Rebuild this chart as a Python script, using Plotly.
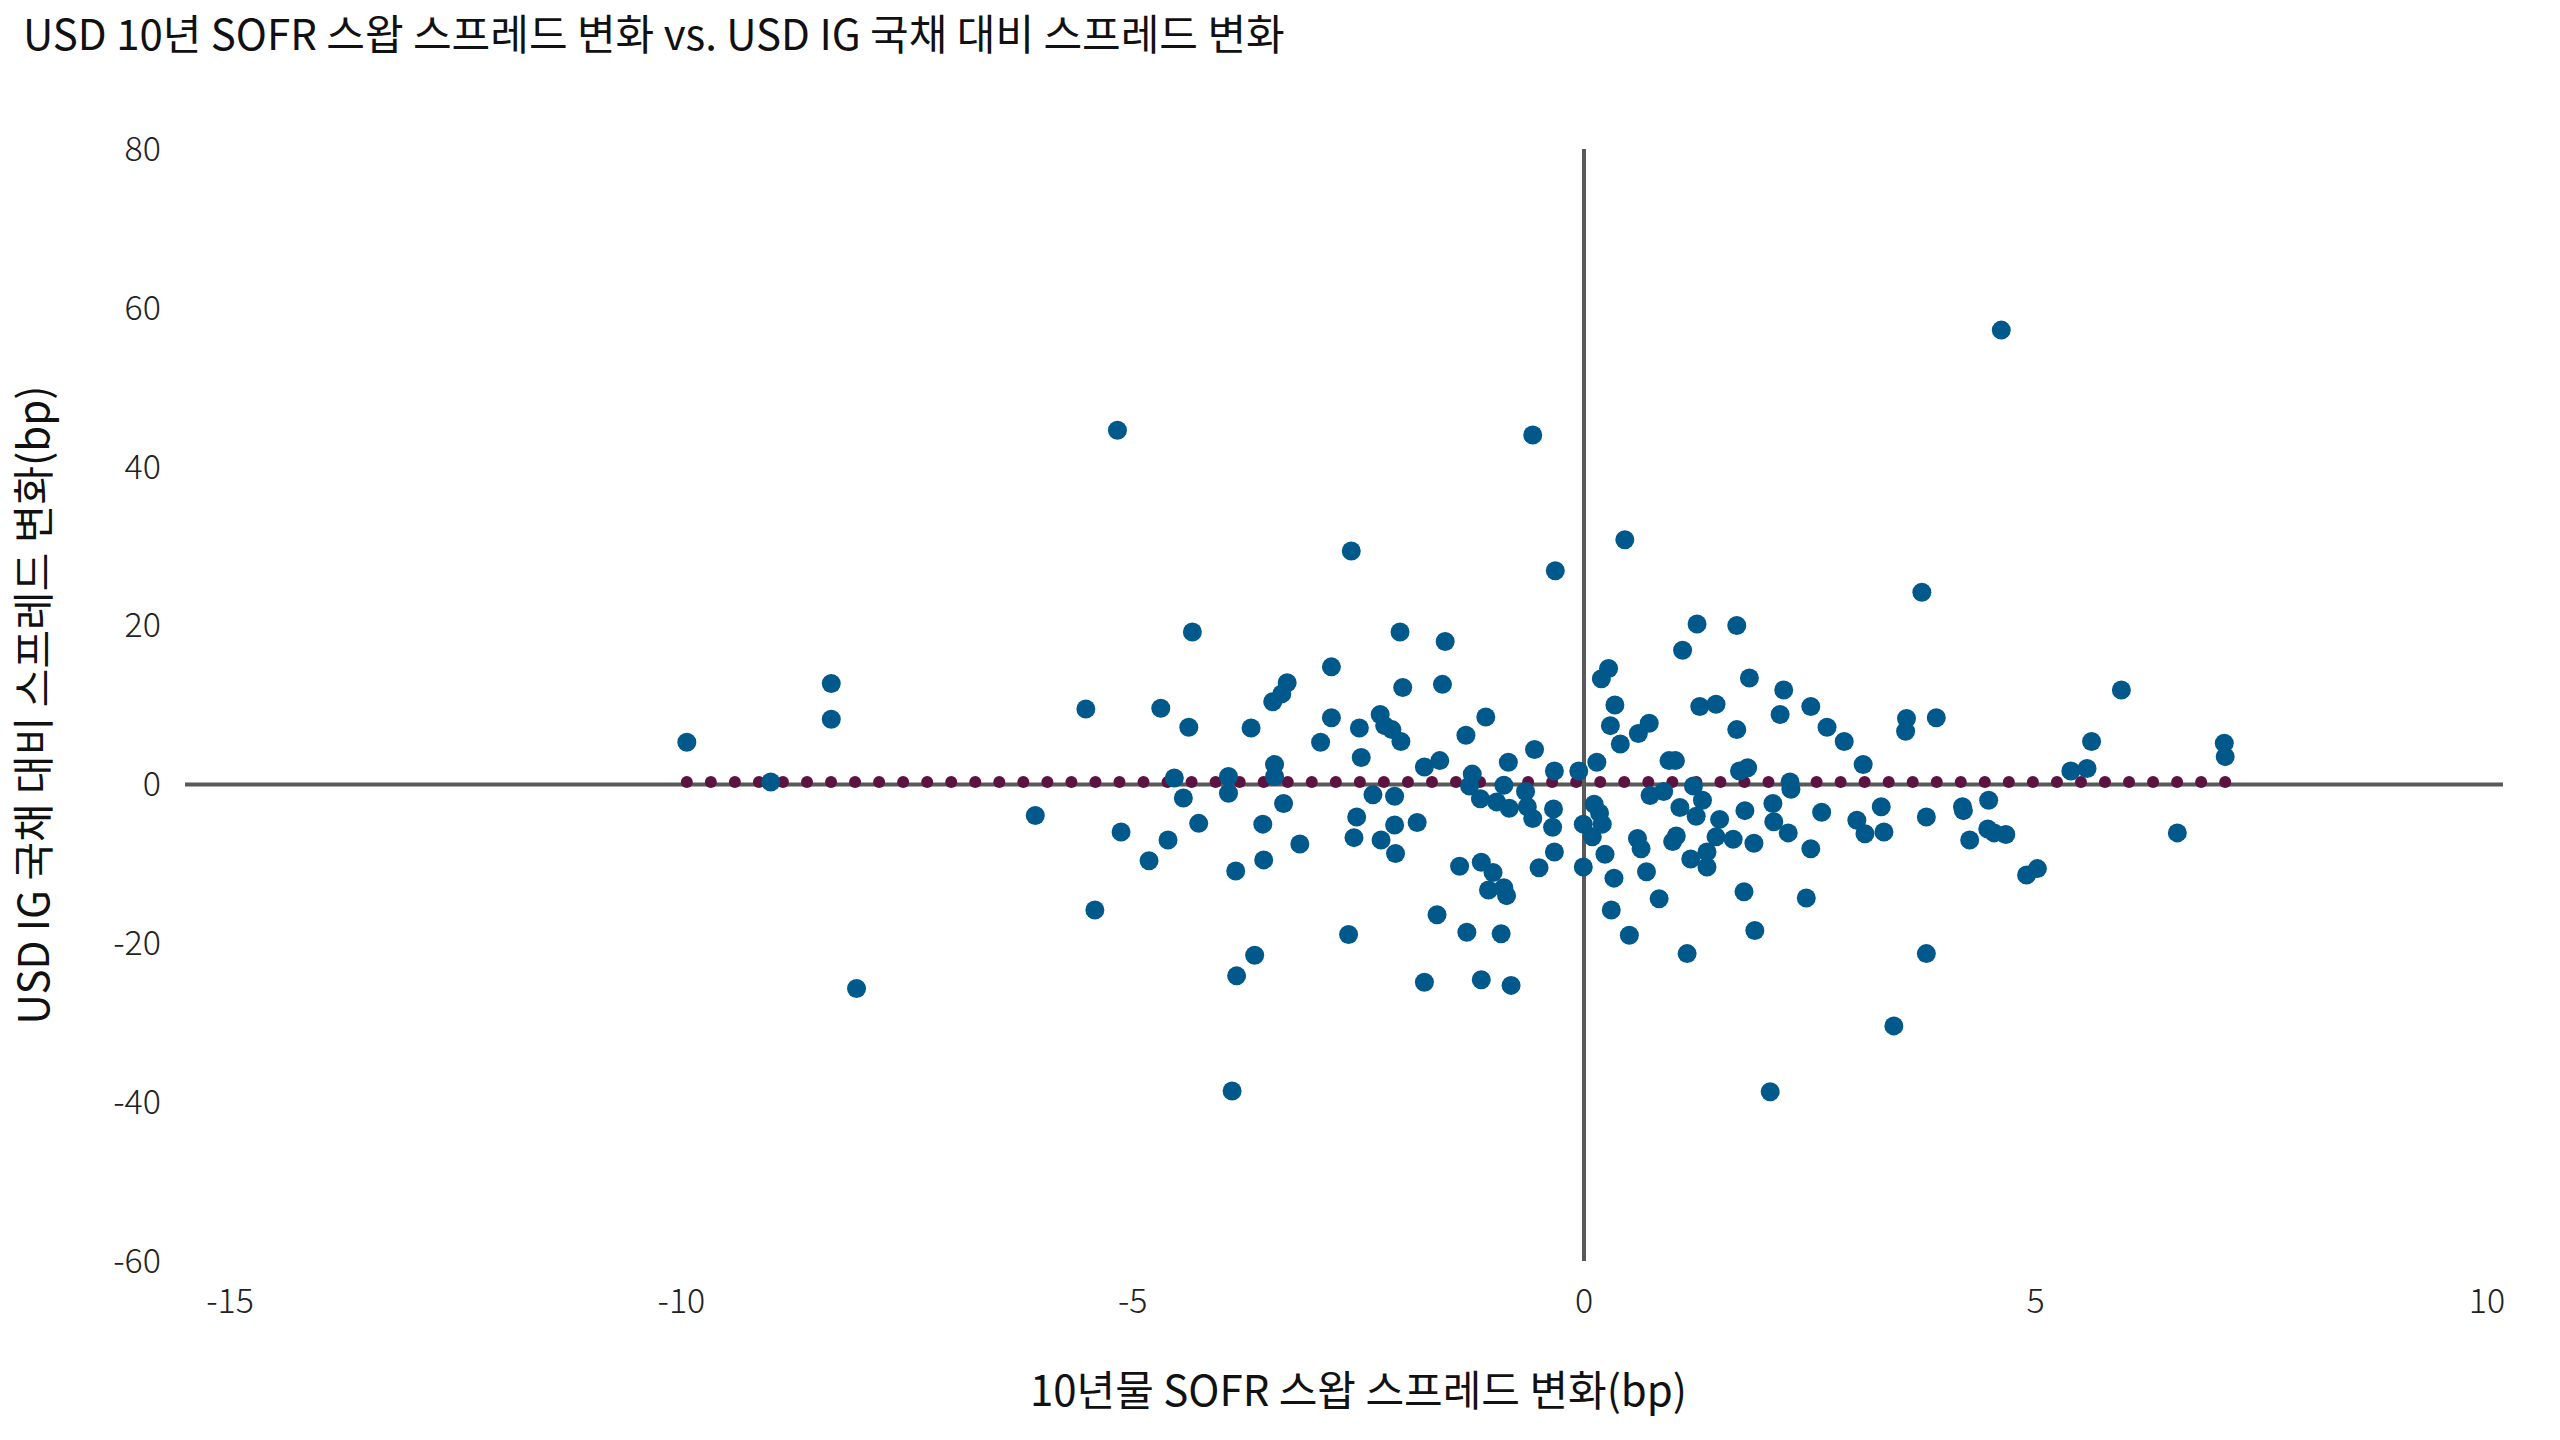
import numpy as np
import plotly.graph_objects as go

# 10년물 SOFR 스왑 스프레드 변화 (bp)
sofr_change = [
    -9.94, -9.01, -8.34, -8.34, -8.06, -6.08,
    -5.17, -2.58, -4.34, -2.04, -1.54, -2.80, -3.29, -3.35, -3.45, -2.01, -1.57,
    -5.52, -4.69, -4.38, -3.69, -2.80, -2.49, -2.26, -2.21, -2.13, -2.03, -2.92,
    -0.57, -0.32, 0.45, 1.25, 1.69, 1.09, 0.27, 0.19, 1.83, 2.21, 0.34, 1.28, 1.46,
    2.17, 2.51, -1.09, -1.31, 0.29, 0.72, 0.60, 1.69, 2.69, 2.88, -0.55, 0.40,
    3.74, 5.95, 3.57, 3.90, 3.56, 5.62, 7.09, 4.62,
    -4.54, -4.44, -4.27, -5.13, -4.61, -4.82, -5.42, -3.94, -3.94, -3.86, -3.43, -3.43,
    -3.33, -3.56, -3.55, -3.15, -3.65, -3.85, -3.90, -2.47, -1.77, -1.60, -2.34, -2.10,
    -2.52, -2.55, -2.25, -2.10, -2.09, -1.85, -2.61, -1.63, -1.77,
    -1.24, -1.27, -1.15, -0.97, -0.89, -0.84, -0.83, -0.65, -0.63, -0.57, -0.33, -0.34,
    -0.35, -0.33, -0.50, -0.06, 0.14, -0.01, 0.11, 0.17, 0.20, 0.09, -0.01, 0.23, 0.33,
    0.30, 0.50, -1.38, -1.14, -1.01, -1.06, -0.89, -0.86, -1.30, -0.92, -1.14, -0.81,
    0.94, 1.01, 0.73, 0.88, 1.21, 1.31, 1.06, 1.24, 1.50, 1.72, 1.81, 1.78, 2.09, 2.10,
    2.28, 2.29, 2.63, 0.59, 0.63, 1.02, 0.98, 1.46, 1.65, 1.36, 1.88, 2.26, 2.51, 1.18,
    1.36, 0.69, 0.83, 1.77, 2.46, 1.89, 1.14, 2.06,
    3.09, 5.39, 5.57, 7.10, 3.29, 3.02, 3.11, 3.32, 3.79, 4.19, 4.20, 4.48, 4.47, 4.54,
    4.67, 4.27, 4.90, 5.02, 6.57, 3.79, 3.43,
]

# USD IG 국채 대비 스프레드 변화 (bp)
ig_spread_change = [
    5.3, 0.3, 12.7, 8.2, -25.7, -3.9,
    44.6, 29.4, 19.2, 19.2, 18.0, 14.8, 12.8, 11.4, 10.4, 12.2, 12.6,
    9.5, 9.6, 7.2, 7.1, 8.4, 7.1, 8.8, 7.4, 6.9, 5.4, 5.3,
    44.0, 26.9, 30.8, 20.2, 20.0, 16.9, 14.6, 13.3, 13.4, 11.9, 10.0, 9.8, 10.1,
    8.8, 9.8, 8.5, 6.2, 7.4, 7.7, 6.4, 6.9, 7.2, 5.4, 4.4, 5.1,
    24.2, 11.9, 8.3, 8.4, 6.7, 5.4, 5.2, 57.2,
    0.8, -1.7, -4.9, -6.0, -7.0, -9.6, -15.8, 1.0, -1.1, -10.9, 2.5, 1.0,
    -2.4, -5.0, -9.5, -7.5, -21.5, -24.1, -38.6, 3.4, 2.2, 3.0, -1.3, -1.5,
    -4.1, -6.7, -7.0, -5.1, -8.7, -4.8, -18.9, -16.4, -24.9,
    1.3, -0.2, -1.8, -2.2, -0.1, 2.8, -3.0, -0.9, -2.8, -4.3, 1.7, -3.1,
    -5.4, -8.5, -10.5, 1.7, 2.8, -5.0, -2.5, -3.6, -5.0, -6.6, -10.4, -8.8, -11.8,
    -15.8, -19.0, -10.3, -9.8, -11.1, -13.3, -13.0, -14.0, -18.6, -18.8, -24.6, -25.3,
    3.0, 3.0, -1.4, -0.9, -0.2, -2.0, -2.9, -4.0, -4.4, 1.7, 2.1, -3.3, -2.4, -4.7,
    0.3, -0.6, -3.5, -6.8, -8.1, -6.5, -7.2, -6.6, -6.9, -8.5, -7.4, -6.1, -8.1, -9.4,
    -10.4, -11.0, -14.4, -13.5, -14.3, -18.4, -21.3, -38.7,
    2.5, 1.7, 2.0, 3.5, -2.8, -4.5, -6.2, -6.0, -4.1, -2.8, -3.3, -2.0, -5.6, -6.1,
    -6.3, -7.0, -11.4, -10.6, -6.1, -21.3, -30.4,
]

# 추세선 (양 끝 값, 그림에서 읽음)
trend_level = [0.3, 0.3]

x_ticks = [-15, -10, -5, 0, 5, 10]
y_ticks = [-60, -40, -20, 0, 20, 40, 60, 80]

title_text = "USD 10년 SOFR 스왑 스프레드 변화 vs. USD IG 국채 대비 스프레드 변화"
x_title = "10년물 SOFR 스왑 스프레드 변화(bp)"
y_title = "USD IG 국채 대비 스프레드 변화(bp)"

FONT = "Noto Sans CJK KR, Noto Sans, sans-serif"
BLUE = "#01588B"
MAROON = "#5C1342"
AXIS = "#58595B"

W, H = 2560, 1440
L, R, T, B = 230, 73, 149, 179
plot_w = W - L - R

# dotted trend line: dots along the line from min to max of the data
x_min, x_max = min(sofr_change), max(sofr_change)
n_dots = int(round((x_max - x_min) / 0.265)) + 1
trend_x = np.linspace(x_min, x_max, n_dots)
trend_y = np.interp(trend_x, [x_min, x_max], trend_level)

fig = go.Figure()
fig.add_trace(go.Scatter(
    x=trend_x, y=trend_y, mode="markers",
    marker=dict(size=12, color=MAROON, line=dict(width=0)),
    hoverinfo="skip", showlegend=False,
))
fig.add_trace(go.Scatter(
    x=sofr_change, y=ig_spread_change, mode="markers",
    marker=dict(size=19, color=BLUE, line=dict(width=0)),
    showlegend=False,
))

fig.update_layout(
    width=W, height=H, autosize=False,
    margin=dict(l=L, r=R, t=T, b=B, pad=0),
    paper_bgcolor="white", plot_bgcolor="white",
    font=dict(family=FONT, color="#1a1a1a"),
    title=dict(
        text=title_text, x=23 / W, xanchor="left", xref="container",
        y=1 - 35 / H, yanchor="middle", yref="container",
        font=dict(family=FONT, size=42, color="#111111"),
    ),
    showlegend=False,
)

fig.update_xaxes(
    range=[-15, 10], tickvals=x_ticks, ticktext=[str(v) for v in x_ticks],
    showgrid=False, showline=False, ticks="", zeroline=True,
    zerolinecolor=AXIS, zerolinewidth=4,
    tickfont=dict(family=FONT, size=34, color="#222222", weight=300),
    ticklabelstandoff=17,
    title=dict(text=x_title, standoff=54,
               font=dict(family=FONT, size=42, color="#111111")),
    automargin=False,
)
fig.update_yaxes(
    range=[-60, 80], tickvals=y_ticks, ticktext=[str(v) for v in y_ticks],
    showgrid=False, showline=False, ticks="", zeroline=False,
    tickfont=dict(family=FONT, size=34, color="#222222", weight=300),
    ticklabelstandoff=68,
    title=dict(text=y_title, standoff=54,
               font=dict(family=FONT, size=42, color="#111111")),
    automargin=False,
)

# horizontal zero axis line, extending slightly beyond the plotting range
fig.add_shape(type="line", xref="x domain", yref="y",
              x0=(185 - L) / plot_w, x1=(2503 - L) / plot_w,
              y0=0, y1=0, line=dict(color=AXIS, width=4), layer="below")

fig.write_html(
    "out.html",
    config={"displayModeBar": False},
    post_script="document.body.style.margin='0';document.body.style.overflow='hidden';",
)
